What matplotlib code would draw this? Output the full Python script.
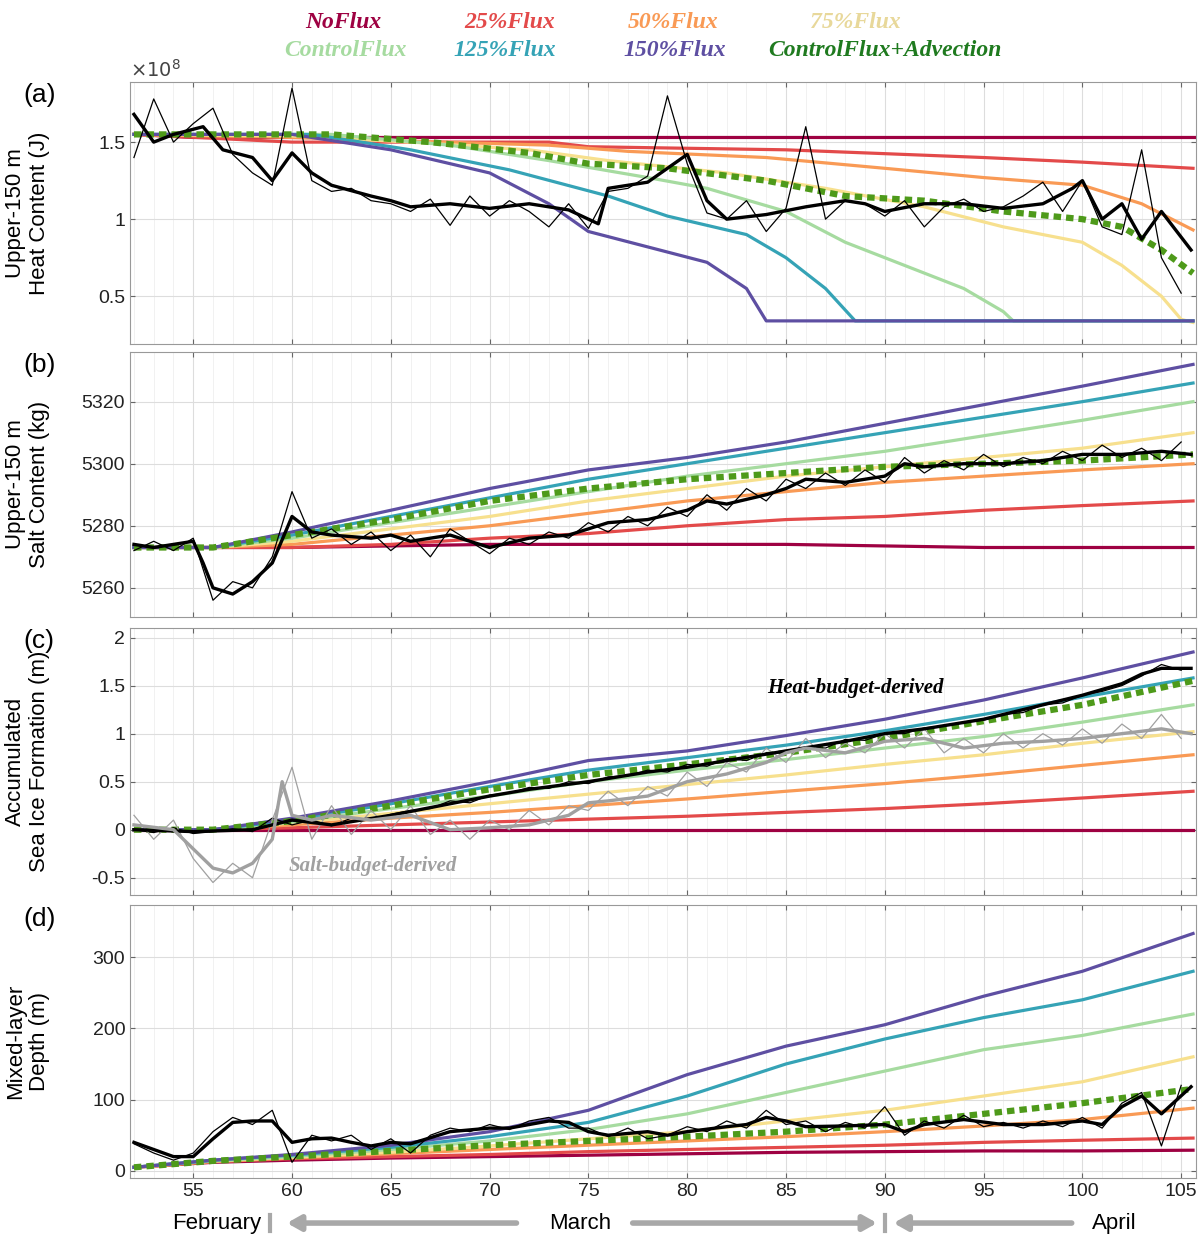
import matplotlib
matplotlib.use("Agg")
import matplotlib.pyplot as plt
import numpy as np
from matplotlib.ticker import MultipleLocator
import matplotlib.transforms as mtrans

names = ["NoFlux", "25%Flux", "50%Flux", "75%Flux", "ControlFlux", "125%Flux", "150%Flux", "ControlFlux+Advection"]
colors = ["#9e0142", "#e34a4a", "#f99a55", "#f7e08e", "#a6dba0", "#35a3b6", "#5e4fa2", "#4e9a1a"]

# ---- panel (a): heat content (x1e8 J), each model has its own breakpoints
a_x = {
    "NoFlux": [52, 55, 106],
    "25%Flux": [52, 60, 73, 75, 85, 95, 100, 105.6],
    "50%Flux": [52, 60, 65, 73, 77, 84, 90, 95, 100, 103, 105.6],
    "75%Flux": [52, 60, 66, 72, 76, 82, 87, 92, 96, 100, 102, 104, 105, 105.6],
    "ControlFlux": [52, 62, 68, 73, 78, 81, 85, 88, 91, 94, 96, 96.5, 105.6],
    "125%Flux": [52, 61, 66, 71, 76, 79, 83, 85, 87, 88.5, 105.6],
    "150%Flux": [52, 60, 65, 70, 73, 75, 78, 81, 83, 84, 105.6],
    "ControlFlux+Advection": [52, 62, 67, 72, 75, 79, 84, 88, 92, 96, 100, 102, 104, 105.6],
}
a_y = {
    "NoFlux": [1.55, 1.53, 1.53],
    "25%Flux": [1.55, 1.50, 1.50, 1.47, 1.45, 1.40, 1.37, 1.33],
    "50%Flux": [1.55, 1.53, 1.51, 1.48, 1.44, 1.40, 1.33, 1.27, 1.22, 1.10, 0.93],
    "75%Flux": [1.55, 1.54, 1.50, 1.45, 1.38, 1.30, 1.20, 1.08, 0.95, 0.85, 0.70, 0.50, 0.35, 0.33],
    "ControlFlux": [1.55, 1.55, 1.48, 1.38, 1.27, 1.20, 1.05, 0.85, 0.70, 0.55, 0.40, 0.34, 0.34],
    "125%Flux": [1.55, 1.55, 1.45, 1.32, 1.15, 1.02, 0.90, 0.75, 0.55, 0.34, 0.34],
    "150%Flux": [1.55, 1.55, 1.45, 1.30, 1.10, 0.92, 0.82, 0.72, 0.55, 0.34, 0.34],
    "ControlFlux+Advection": [1.55, 1.55, 1.50, 1.43, 1.36, 1.33, 1.25, 1.15, 1.12, 1.05, 1.00, 0.95, 0.80, 0.65],
}

# ---- common model days for panels b-d
m_days = [52, 56, 60, 65, 70, 75, 80, 85, 90, 95, 100, 105.6]
b_vals = {
    "NoFlux": [5273, 5273, 5273, 5273.5, 5274, 5274, 5274, 5274, 5273.5, 5273, 5273, 5273],
    "25%Flux": [5273, 5273, 5273, 5274, 5276, 5277.5, 5280, 5282, 5283, 5285, 5286.5, 5288],
    "50%Flux": [5273, 5273, 5274, 5277, 5280, 5284, 5288, 5291, 5294, 5296, 5298, 5300],
    "75%Flux": [5273, 5273, 5275, 5279, 5283, 5288, 5292, 5296, 5299, 5302, 5305, 5310],
    "ControlFlux": [5273, 5273, 5276, 5281, 5286, 5291, 5296, 5300, 5304, 5309, 5314, 5320],
    "125%Flux": [5273, 5273, 5277, 5283, 5289, 5295, 5300, 5305, 5310, 5315, 5320, 5326],
    "150%Flux": [5273, 5273, 5278, 5285, 5292, 5298, 5302, 5307, 5313, 5319, 5325, 5332],
    "ControlFlux+Advection": [5273, 5273, 5277, 5282, 5288, 5292, 5295, 5297, 5299, 5300, 5301, 5303],
}
c_vals = {
    "NoFlux": [0] * 12,
    "25%Flux": [0, 0, 0.02, 0.05, 0.08, 0.11, 0.14, 0.18, 0.22, 0.27, 0.33, 0.40],
    "50%Flux": [0, 0, 0.05, 0.12, 0.18, 0.25, 0.32, 0.40, 0.48, 0.57, 0.67, 0.78],
    "75%Flux": [0, 0, 0.07, 0.17, 0.27, 0.37, 0.47, 0.57, 0.68, 0.78, 0.90, 1.02],
    "ControlFlux": [0, 0, 0.08, 0.22, 0.35, 0.50, 0.62, 0.73, 0.85, 0.97, 1.12, 1.30],
    "125%Flux": [0, 0, 0.10, 0.27, 0.45, 0.62, 0.75, 0.88, 1.03, 1.20, 1.38, 1.58],
    "150%Flux": [0, 0, 0.12, 0.30, 0.50, 0.72, 0.82, 0.98, 1.15, 1.35, 1.58, 1.85],
    "ControlFlux+Advection": [0, 0, 0.09, 0.25, 0.42, 0.57, 0.68, 0.80, 0.95, 1.13, 1.30, 1.55],
}
d_vals = {
    "NoFlux": [5, 12, 15, 18, 20, 22, 24, 26, 27, 28, 28, 29],
    "25%Flux": [5, 13, 17, 20, 23, 27, 30, 33, 36, 40, 43, 46],
    "50%Flux": [5, 13, 18, 24, 30, 36, 42, 48, 55, 63, 72, 88],
    "75%Flux": [5, 14, 19, 26, 35, 45, 55, 70, 85, 105, 125, 160],
    "ControlFlux": [5, 14, 20, 30, 42, 58, 80, 110, 140, 170, 190, 220],
    "125%Flux": [5, 15, 22, 33, 48, 68, 105, 150, 185, 215, 240, 280],
    "150%Flux": [5, 15, 23, 36, 55, 85, 135, 175, 205, 245, 280, 333],
    "ControlFlux+Advection": [5, 14, 20, 28, 36, 42, 48, 55, 65, 80, 95, 115],
}

# ---- observations: thin (daily) and thick (smoothed)
obs_days = list(range(52, 106))
a_thin = [1.40, 1.78, 1.50, 1.62, 1.72, 1.42, 1.30, 1.22, 1.85, 1.25, 1.18, 1.20, 1.12, 1.10, 1.05, 1.13, 0.96, 1.15,
          1.02, 1.12, 1.05, 0.95, 1.10, 0.94, 1.18, 1.20, 1.28, 1.80, 1.36, 1.04, 1.00, 1.12, 0.92, 1.07, 1.60, 1.00,
          1.12, 1.10, 1.02, 1.12, 0.95, 1.08, 1.13, 1.05, 1.08, 1.15, 1.24, 1.05, 1.25, 0.95, 0.90, 1.45, 0.75, 0.52]
a_thick_x = [52, 53, 54, 55.5, 56.5, 58, 59, 60, 61, 62, 64, 65, 66, 68, 70, 72, 74, 75.5, 76, 78, 80, 81, 82, 84, 86,
             88, 89, 90, 92, 94, 96, 98, 99.5, 100, 101, 102, 103, 104, 105.5]
a_thick = [1.68, 1.50, 1.55, 1.60, 1.45, 1.40, 1.25, 1.43, 1.30, 1.22, 1.15, 1.12, 1.08, 1.10, 1.07, 1.10, 1.06, 0.97,
           1.20, 1.24, 1.42, 1.12, 1.00, 1.03, 1.08, 1.12, 1.10, 1.05, 1.10, 1.10, 1.07, 1.10, 1.20, 1.25, 1.00, 1.10,
           0.87, 1.05, 0.80]

b_thin = [5272, 5275, 5272, 5276, 5256, 5262, 5260, 5270, 5291, 5276, 5279, 5274, 5278, 5272, 5277, 5270, 5279, 5275,
          5271, 5276, 5274, 5278, 5276, 5281, 5278, 5283, 5280, 5286, 5283, 5290, 5285, 5292, 5288, 5295, 5292, 5297,
          5293, 5298, 5294, 5302, 5297, 5301, 5298, 5303, 5299, 5302, 5300, 5304, 5301, 5306, 5302, 5305, 5301, 5307]
b_thick_x = [52, 53, 54, 55, 55.5, 56, 57, 58, 59, 60, 61, 62, 64, 65, 66, 68, 70, 72, 74, 75, 76, 78, 80, 81, 82, 84,
             85, 86, 88, 90, 91, 92, 94, 96, 98, 100, 102, 104, 105.5]
b_thick = [5274, 5273, 5274, 5275, 5268, 5260, 5258, 5262, 5268, 5283, 5278, 5277, 5276, 5277, 5275, 5277, 5273, 5276,
           5277, 5279, 5281, 5282, 5285, 5288, 5287, 5290, 5292, 5295, 5294, 5296, 5300, 5299, 5300, 5300, 5301, 5303,
           5303, 5304, 5303]

c_heat_thin = [0, -0.03, 0.02, -0.04, -0.02, 0.01, -0.02, 0.12, 0.05, 0.10, 0.04, 0.12, 0.10, 0.16, 0.20, 0.22, 0.30,
               0.28, 0.36, 0.38, 0.44, 0.43, 0.50, 0.48, 0.55, 0.56, 0.62, 0.60, 0.68, 0.66, 0.74, 0.72, 0.80, 0.80,
               0.86, 0.85, 0.94, 0.93, 1.00, 1.00, 1.06, 1.08, 1.12, 1.14, 1.20, 1.22, 1.30, 1.32, 1.40, 1.44, 1.50,
               1.60, 1.72, 1.66]
c_heat_x = [52, 55, 58, 60, 62, 65, 68, 70, 72, 75, 78, 80, 82, 85, 88, 90, 92, 95, 98, 100, 102, 103, 104, 105.5]
c_heat = [0, -0.02, 0, 0.10, 0.05, 0.15, 0.27, 0.35, 0.42, 0.50, 0.60, 0.65, 0.72, 0.82, 0.92, 1.00, 1.05, 1.15, 1.30,
          1.40, 1.52, 1.62, 1.68, 1.68]
c_salt_thin = [0.15, -0.10, 0.10, -0.30, -0.55, -0.35, -0.50, 0.10, 0.65, -0.10, 0.25, -0.05, 0.20, 0.00, 0.25, -0.05,
               0.10, -0.10, 0.10, 0.00, 0.20, 0.05, 0.25, 0.20, 0.40, 0.25, 0.45, 0.35, 0.60, 0.45, 0.70, 0.60, 0.85,
               0.70, 0.95, 0.75, 0.90, 0.80, 1.00, 0.85, 1.05, 0.80, 0.95, 0.80, 1.00, 0.85, 1.00, 0.88, 1.05, 0.90,
               1.10, 0.95, 1.20, 0.95]
c_salt_x = [52, 54, 55, 56, 57, 58, 59, 59.5, 60, 61, 62, 64, 66, 68, 70, 72, 74, 75, 76, 78, 80, 82, 84, 85, 86, 88,
            90, 92, 94, 96, 98, 100, 102, 104, 105.5]
c_salt = [0.05, 0, -0.20, -0.40, -0.45, -0.35, -0.10, 0.50, 0.15, 0.10, 0.15, 0.10, 0.15, 0, 0.02, 0.05, 0.15, 0.28,
          0.30, 0.35, 0.50, 0.58, 0.70, 0.80, 0.85, 0.80, 0.92, 0.95, 0.85, 0.90, 0.92, 0.95, 1.00, 1.05, 1.00]

d_thin = [38, 25, 15, 25, 55, 75, 65, 85, 12, 50, 42, 50, 30, 45, 25, 50, 60, 55, 65, 58, 70, 75, 60, 60, 48, 60, 45,
          50, 62, 55, 70, 60, 85, 65, 70, 55, 68, 60, 90, 50, 70, 60, 78, 62, 68, 60, 70, 62, 75, 60, 95, 110, 35, 120]
d_thick_x = [52, 53, 54, 55, 56, 57, 58, 59, 59.5, 60, 61, 62, 63, 64, 65, 66, 68, 70, 71, 72, 73, 74, 75, 76, 78, 79,
             80, 82, 83, 84, 85, 86, 88, 90, 91, 92, 94, 96, 98, 100, 101, 102, 103, 104, 105.5]
d_thick = [40, 30, 20, 20, 45, 68, 70, 70, 55, 40, 45, 46, 40, 35, 40, 38, 55, 60, 60, 65, 70, 68, 55, 50, 55, 50, 55,
           62, 65, 75, 70, 62, 63, 65, 55, 65, 72, 65, 65, 70, 65, 90, 105, 80, 118]

fig = plt.figure(figsize=(12.03, 12.34), dpi=100)
plt.rcParams['font.family'] = ['Liberation Sans', 'DejaVu Sans']
L, W = 130 / 1203, 1066 / 1203
def ax_at(top, bot):
    return fig.add_axes([L, 1 - bot / 1234, W, (bot - top) / 1234])
axs = [ax_at(82, 344), ax_at(352, 617), ax_at(628, 895), ax_at(905, 1178)]

def style(ax):
    ax.set_xlim(51.8, 105.75)
    ax.xaxis.set_major_locator(MultipleLocator(5))
    ax.xaxis.set_minor_locator(MultipleLocator(1))
    ax.grid(True, which='major', color='#dddddd', lw=0.8)
    ax.grid(True, which='minor', color='#efefef', lw=0.6)
    ax.set_axisbelow(True)
    for s in ax.spines.values():
        s.set_color('#999999')
    ax.tick_params(which='both', direction='in', colors='#666666', labelcolor='#222222', labelsize=14, top=True, right=True)
    ax.tick_params(which='minor', length=0)

def models(ax, xs, ys):
    for n, c in zip(names, colors):
        if n == "ControlFlux+Advection":
            ax.plot(xs[n], ys[n], color=c, lw=4.5, ls=(0, (1.2, 0.8)), zorder=4)
        else:
            ax.plot(xs[n], ys[n], color=c, lw=2.3, zorder=3)

def obs(ax, thin, tx, thick, col='black'):
    ax.plot(obs_days, thin, color=col, lw=0.9, zorder=5)
    ax.plot(tx, thick, color=col, lw=2.4, zorder=6)

ax = axs[0]; style(ax)
models(ax, a_x, a_y); obs(ax, a_thin, a_thick_x, a_thick)
ax.set_ylim(0.19, 1.89); ax.set_yticks([0.5, 1, 1.5]); ax.set_yticklabels(["0.5", "1", "1.5"])
ax.set_ylabel("Upper-150 m\nHeat Content (J)", fontsize=16)
ax.text(0.0, 1.02, r"$\times10^8$", transform=ax.transAxes, fontsize=14, color='#444444')

ax = axs[1]; style(ax)
models(ax, {n: m_days for n in names}, b_vals); obs(ax, b_thin, b_thick_x, b_thick)
ax.set_ylim(5250.6, 5336); ax.set_yticks([5260, 5280, 5300, 5320])
ax.set_ylabel("Upper-150 m\nSalt Content (kg)", fontsize=16)

ax = axs[2]; style(ax)
models(ax, {n: m_days for n in names}, c_vals)
obs(ax, c_heat_thin, c_heat_x, c_heat)
obs(ax, c_salt_thin, c_salt_x, c_salt, col='#a0a0a0')
ax.set_ylim(-0.68, 2.1); ax.set_yticks([-0.5, 0, 0.5, 1, 1.5, 2])
ax.set_yticklabels(["-0.5", "0", "0.5", "1", "1.5", "2"])
ax.set_ylabel("Accumulated\nSea Ice Formation (m)", fontsize=16)
ax.text(88.5, 1.48, "Heat-budget-derived", family='Liberation Serif', style='italic', weight='bold', fontsize=15, ha='center', va='center', zorder=8)
ax.text(64.1, -0.38, "Salt-budget-derived", family='Liberation Serif', style='italic', weight='bold', fontsize=15, ha='center', va='center', color='#a0a0a0', zorder=8)

ax = axs[3]; style(ax)
models(ax, {n: m_days for n in names}, d_vals); obs(ax, d_thin, d_thick_x, d_thick)
ax.set_ylim(-10, 373); ax.set_yticks([0, 100, 200, 300])
ax.set_ylabel("Mixed-layer\nDepth (m)", fontsize=16)

for a in axs[:3]:
    a.tick_params(labelbottom=False)
for a in axs:
    a.yaxis.set_label_coords(-0.075, 0.5)

for a, lab in zip(axs, ["(a)", "(b)", "(c)", "(d)"]):
    a.text(-0.1, 0.95, lab, transform=a.transAxes, fontsize=19, va='center')

# month labels and arrows
ax = axs[3]
tr = mtrans.blended_transform_factory(ax.transData, ax.transAxes)
yy = -0.165
ax.text(56.2, yy, "February", transform=tr, ha='center', va='center', fontsize=16)
ax.text(74.6, yy, "March", transform=tr, ha='center', va='center', fontsize=16)
ax.text(101.6, yy, "April", transform=tr, ha='center', va='center', fontsize=16)
arrow = dict(arrowstyle='-|>,head_width=0.45,head_length=0.8', color='#a8a8a8', lw=4)
ax.annotate("", xy=(59.6, yy), xytext=(71.5, yy), xycoords=tr, textcoords=tr, arrowprops=arrow, annotation_clip=False)
ax.annotate("", xy=(89.75, yy), xytext=(77.1, yy), xycoords=tr, textcoords=tr, arrowprops=arrow, annotation_clip=False)
ax.annotate("", xy=(90.3, yy), xytext=(99.6, yy), xycoords=tr, textcoords=tr, arrowprops=arrow, annotation_clip=False)
for xb in [58.9, 90.0]:
    ax.plot([xb, xb], [yy - 0.03, yy + 0.03], transform=tr, color='#a8a8a8', lw=3, clip_on=False)

# legend as text
leg_pos = [(343, 23), (510, 23), (673, 23), (855, 23), (345, 50), (505, 50), (675, 50), (885, 50)]
leg_colors = ["#9e0142", "#e34a4a", "#f99a55", "#e8d89a", "#a6dba0", "#35a3b6", "#5e4fa2", "#1f7a1f"]
for n, c, (px, py) in zip(names, leg_colors, leg_pos):
    fig.text(px / 1203, 1 - py / 1234, n, color=c, family='Liberation Serif', style='italic', weight='bold',
             fontsize=17, ha='center', va='center')

fig.savefig("out.png", dpi=100)
